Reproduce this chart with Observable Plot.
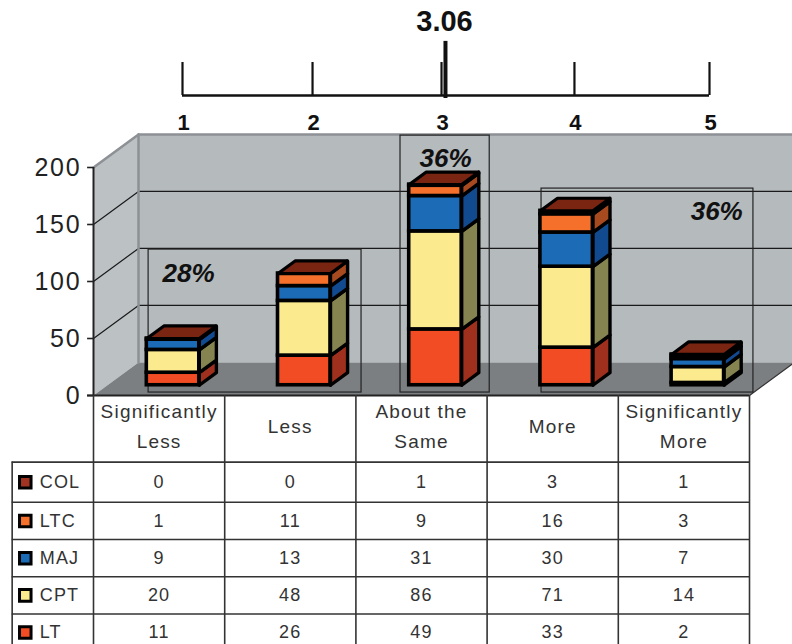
<!DOCTYPE html>
<html><head><meta charset="utf-8">
<script src="https://cdn.jsdelivr.net/npm/d3@7"></script>
<script src="https://cdn.jsdelivr.net/npm/@observablehq/plot@0.6"></script>
<style>
html,body{margin:0;padding:0;background:#fff;overflow:hidden;width:792px;height:644px}
svg{display:block}
.ylab{letter-spacing:1.8px}
</style></head><body><div id="top"></div><div id="chart"></div><div id="table"></div>
<script>
// ---- data ----
const categories = [["Significantly","Less"],["Less"],["About the","Same"],["More"],["Significantly","More"]];
const seriesBottomUp = ["LT","CPT","MAJ","LTC","COL"];
const LT  = [11,26,49,33,2];
const CPT = [20,48,86,71,14];
const MAJ = [9,13,31,30,7];
const LTC = [1,11,9,16,3];
const COL = [0,0,1,3,1];
const values = {LT,CPT,MAJ,LTC,COL};
const frontColors = {LT:"#f24c24",CPT:"#fbea8e",MAJ:"#1c6bb6",LTC:"#f5712b",COL:"#a03322"};
const sideColors  = {LT:"#a0301e",CPT:"#85834f",MAJ:"#124a90",LTC:"#a84a20",COL:"#7a2412"};
const topColor = "#7a2412";
const yTicks = [0,50,100,150,200];
const scaleTicks = [1,2,3,4,5];
const scaleMean = 3.06;
const callouts = [
  {label:"28%",c1:0.42,c2:2.043,v2:128,tc:0.724,tv:107},
  {label:"36%",c1:2.34,c2:3.02,v2:228,tc:2.683,tv:208},
  {label:"36%",c1:3.415,c2:5.03,v2:181.5,tc:4.75,tv:161}
];

const font = "'Liberation Sans', Arial, sans-serif";
const base = {background:"transparent",overflow:"visible",fontFamily:font};

// ---- top 1-5 scale (the printed ruler is not quite even) ----
const ruler = d3.scaleLinear([1,2,3,3.06,4,5],[1,1.987,2.966,2.996,3.975,5]);
const topPlot = Plot.plot({
  width:792,height:130,margin:0,
  style:base,
  x:{domain:[1,5],range:[182,709],axis:null},
  y:{domain:[2.879,-1.06],range:[0,130],axis:null},
  marks:[
    Plot.ruleY([0],{x1:1,x2:5,stroke:"#111",strokeWidth:2.5}),
    Plot.ruleX(scaleTicks,{x:d=>ruler(d),y1:0,y2:1,stroke:"#111",strokeWidth:2.2}),
    Plot.ruleX([scaleMean],{x:d=>ruler(d),y1:-0.09,y2:1.64,stroke:"#111",strokeWidth:4}),
    Plot.text(scaleTicks,{x:d=>ruler(d),y:-0.82,text:d=>String(d),dx:1,fontSize:22,fontWeight:"bold",fill:"#111"}),
    Plot.text([scaleMean],{x:d=>ruler(d),y:2.24,text:d=>d.toFixed(2),dx:-1,fontSize:29,fontWeight:"bold",fill:"#111"})
  ]
});
document.getElementById("top").append(topPlot);

// ---- 3D projection in data units ----
const depthC = 0.343, depthV = 29;
const P = (c,v,d)=>({x:c+d*depthC,y:v+d*depthV});
const poly = (id,fill,pts)=>pts.concat([pts[0]]).map(([c,v,d])=>({id,fill,...P(c,v,d)}));
const polyMark = (rows,opts)=>Plot.line(rows,{x:"x",y:"y",z:"id",fill:d=>d.fill,curve:"linear",...opts});

const backWall = poly("back","#b5babd",[[0,0,1],[5,0,1],[5,200,1],[0,200,1]]);
const leftWall = poly("left","#bcc1c4",[[0,0,0],[0,0,1],[0,200,1],[0,200,0]]);
const floor = poly("floor","#7b7f82",[[0,0,0],[5,0,0],[5,0,1],[0,0,1]]);

const seg = (a,b)=>[{...P(...a),id:a.join()},{...P(...b),id:a.join()}];
const gridRows = yTicks.filter(v=>v>0&&v<200).flatMap(v=>[
  ...seg([0,v,0],[0,v,1]),...seg([0,v,1],[5,v,1])
]);

// bars
const halfW = 0.2, d1 = 0.31, d2 = 0.69;
const faces = [], fronts = [], tops = [];
categories.forEach((_,i)=>{
  const cx = i+0.5; let acc = 0;
  seriesBottomUp.forEach(s=>{
    const val = values[s][i]; if(!val) return;
    const a = acc, b = acc+val; acc = b;
    faces.push(...poly(`${s}${i}`,sideColors[s],[[cx+halfW,a,d1],[cx+halfW,a,d2],[cx+halfW,b,d2],[cx+halfW,b,d1]]));
    const p1=P(cx-halfW,a,d1), p2=P(cx+halfW,b,d1);
    fronts.push({x1:p1.x,x2:p2.x,y1:p1.y,y2:p2.y,fill:frontColors[s]});
  });
  tops.push(...poly(`top${i}`,topColor,[[cx-halfW,acc,d1],[cx+halfW,acc,d1],[cx+halfW,acc,d2],[cx-halfW,acc,d2]]));
});

const chartPlot = Plot.plot({
  width:792,height:265,marginTop:37,marginBottom:0,marginLeft:93,marginRight:43,
  style:base,
  x:{domain:[0,5],axis:null},
  y:{domain:[0,200],axis:null},
  marks:[
    polyMark(backWall,{stroke:"none"}),
    polyMark(leftWall,{stroke:"none"}),
    polyMark(floor,{stroke:"none"}),
    Plot.line(gridRows,{x:"x",y:"y",z:"id",stroke:"#1a1a1a",strokeWidth:1.2}),
    Plot.line([P(0,0,1),P(0,200,1),P(5,200,1)],{x:"x",y:"y",stroke:"#8d9195",strokeWidth:2.5}),
    Plot.line([P(0,200,0),P(0,200,1)],{x:"x",y:"y",stroke:"#8d9195",strokeWidth:2.5}),
    Plot.line([P(5,0,0),P(5,0,1)],{x:"x",y:"y",stroke:"#333",strokeWidth:1.2}),
    Plot.rect(callouts,{x1:"c1",x2:"c2",y1:2.6,y2:"v2",fill:"none",stroke:"#222",strokeWidth:1.2}),
    polyMark(faces,{stroke:"#000",strokeWidth:3.4,strokeLinejoin:"round"}),
    Plot.rect(fronts,{x1:"x1",x2:"x2",y1:"y1",y2:"y2",fill:d=>d.fill,stroke:"#000",strokeWidth:3.6,inset:0}),
    polyMark(tops,{stroke:"#000",strokeWidth:3.2,strokeLinejoin:"miter"}),
    Plot.text(callouts,{x:"tc",y:"tv",text:"label",fontSize:26,fontWeight:"bold",fontStyle:"italic",fill:"#111"}),
    Plot.ruleX([0],{y1:0,y2:200,stroke:"#222",strokeWidth:2}),
    Plot.ruleY([0],{x1:-0.045,x2:5,stroke:"#222",strokeWidth:2.2}),
    Plot.ruleY(yTicks,{x1:-0.045,x2:0,stroke:"#222",strokeWidth:1.6}),
    Plot.text(yTicks,{x:0,y:d=>d,text:d=>String(d),dx:-12,textAnchor:"end",fontSize:25,fill:"#222",className:"ylab"})
  ]
});
document.getElementById("chart").append(chartPlot);

// ---- table ----
const rows = ["COL","LTC","MAJ","CPT","LT"];
const colEdges = [0,1,2,3,4,5];
const rowEdges = [0,1.08,2.08,3.08,4.08,5.08];
const rowMid = r=>(rowEdges[r]+rowEdges[r+1])/2;
const cellRows = rows.flatMap((s,r)=>values[s].map((v,i)=>({c:i+0.5,r:rowMid(r),v})));
const headerRows = categories.flatMap((lines,i)=>lines.map((t,k)=>({
  c:i+0.5, r:-0.94+(k-(lines.length-1)/2)*0.8, t})));
const legendRows = rows.map((s,r)=>({s,r:rowMid(r),fill:frontColors[s]}));
const tablePlot = Plot.plot({
  width:792,height:249,marginTop:0,marginBottom:0,marginLeft:93,marginRight:43,
  style:{...base,letterSpacing:"1.2px"},
  x:{domain:[0,5],axis:null},
  y:{domain:[-1.79,4.9],range:[0,249],axis:null},
  marks:[
    Plot.ruleX(colEdges,{y1:-1.79,y2:5.08,stroke:"#333",strokeWidth:1.6}),
    Plot.ruleX([-0.62],{y1:0,y2:5.08,stroke:"#333",strokeWidth:1.6}),
    Plot.ruleY(rowEdges.slice(0,5),{x1:-0.62,x2:5,stroke:"#333",strokeWidth:1.6}),
    Plot.text(headerRows,{x:"c",y:"r",text:"t",fontSize:19,fill:"#333"}),
    Plot.text(cellRows,{x:"c",y:"r",text:d=>String(d.v),fontSize:18,fill:"#333"}),
    Plot.dot(legendRows,{x:-0.52,y:"r",symbol:"square",r:6.5,fill:"fill",stroke:"#000",strokeWidth:3}),
    Plot.text(legendRows,{x:-0.41,y:"r",text:"s",textAnchor:"start",fontSize:18,fill:"#333"})
  ]
});
document.getElementById("table").append(tablePlot);
</script></body></html>
